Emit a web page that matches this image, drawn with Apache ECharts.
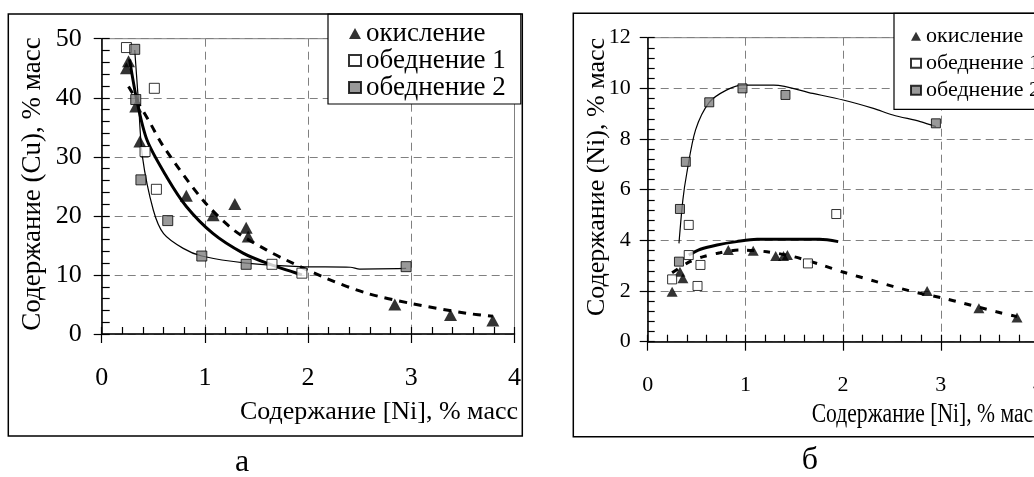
<!DOCTYPE html>
<html lang="ru">
<head>
    <meta charset="UTF-8">
    <title>Cu / Ni</title>
    <style>
        html, body { margin: 0; padding: 0; background: #fff; overflow: hidden; }
        #chart { width: 1050px; height: 477px; }
    </style>
</head>
<body>
<div id="chart"></div>
<script src="https://cdn.jsdelivr.net/npm/echarts@6/dist/echarts.min.js"></script>
<script>
    // ---- (а) содержание Cu ----
    var cuOxidation = [[0.24, 45.0], [0.26, 46.2], [0.33, 38.5], [0.37, 32.6], [0.82, 23.4], [1.08, 20.1],
        [1.29, 22.0], [1.40, 18.0], [1.42, 16.5], [2.84, 5.0], [3.38, 3.2], [3.79, 2.3]]
    var cuDepl1 = [[0.24, 48.5], [0.51, 41.6], [0.42, 30.9], [0.53, 24.5], [1.65, 11.8], [1.94, 10.3]]
    var cuDepl2 = [[0.32, 48.2], [0.33, 39.7], [0.38, 26.1], [0.64, 19.2], [0.97, 13.2], [1.40, 11.8], [2.95, 11.4]]
    var cuTrendOx = [[0.26, 41.9], [0.47, 35.7], [0.60, 31.7], [0.98, 22.7], [1.28, 17.6], [1.60, 14.2],
        [1.79, 12.5], [2.18, 9.4], [2.57, 6.9], [2.99, 5.2], [3.54, 3.5], [3.79, 3.0]]
    var cuTrend1 = [[0.27, 46.5], [0.34, 39.6], [0.44, 32.8], [0.63, 26.6], [0.82, 21.6], [1.08, 17.0],
        [1.37, 13.7], [1.60, 12.0], [1.94, 10.0]]
    var cuTrend2 = [[0.32, 48.1], [0.355, 39.6], [0.395, 30.0], [0.50, 21.0], [0.60, 17.0], [0.79, 14.5],
        [0.97, 13.2], [1.40, 12.0], [1.92, 11.4], [2.41, 11.3], [2.50, 11.0], [2.95, 11.1]]

    // ---- (б) содержание Ni ----
    var niOxidation = [[0.25, 1.97], [0.33, 2.76], [0.36, 2.5], [0.825, 3.62], [1.08, 3.59], [1.31, 3.38],
        [1.39, 3.38], [1.43, 3.42], [2.86, 2.0], [3.39, 1.32], [3.78, 0.96]]
    var niDepl1 = [[0.25, 2.46], [0.42, 4.61], [0.42, 3.42], [0.54, 3.03], [0.51, 2.2], [1.64, 3.09], [1.93, 5.04]]
    var niDepl2 = [[0.32, 3.16], [0.33, 5.24], [0.39, 7.1], [0.63, 9.45], [0.97, 10.0], [1.41, 9.74], [2.95, 8.62]]
    var niTrendOx = [[0.25, 2.72], [0.43, 3.16], [0.57, 3.36], [0.74, 3.51], [0.94, 3.62], [1.22, 3.55],
        [1.49, 3.36], [1.78, 3.03], [1.99, 2.76], [2.34, 2.37], [2.68, 2.01], [3.03, 1.71], [3.23, 1.52],
        [3.57, 1.18], [3.78, 0.99]]
    var niTrend1 = [[0.42, 3.42], [0.54, 3.65], [0.71, 3.82], [0.91, 3.95], [1.12, 4.04], [1.76, 4.04], [1.95, 3.95]]
    var niTrend2 = [[0.32, 3.88], [0.36, 5.6], [0.40, 6.65], [0.49, 8.36], [0.63, 9.45], [0.81, 9.94],
        [0.97, 10.13], [1.29, 10.13], [1.69, 9.8], [2.0, 9.54], [2.31, 9.21], [2.51, 8.95], [2.79, 8.69], [2.95, 8.49]]

    var names = ['окисление', 'обеднение 1', 'обеднение 2']
    var xRange = [0, 4, 1, 0.2]      // min, max, шаг, мелкий шаг
    var cuRange = [0, 50, 10, 2]
    var niRange = [0, 12, 2, 0.4]

    var FONT = 'Liberation Serif'

    function mainAxis(grid, pos, r, fs, margin, len) {
        return {
            type: 'value', gridIndex: grid, position: pos, min: r[0], max: r[1], interval: r[2],
            axisLine: {lineStyle: {color: '#000', width: 1.5}},
            axisTick: {show: true, inside: false, length: len, lineStyle: {color: '#000', width: 1.2}},
            axisLabel: {color: '#000', fontFamily: FONT, fontSize: fs, margin: margin},
            splitLine: {show: true, lineStyle: {color: '#808080', width: 1, type: [8, 5]}}
        }
    }
    // мелкие засечки внутрь
    function minorAxis(grid, pos, r, len) {
        return {
            type: 'value', gridIndex: grid, position: pos, min: r[0], max: r[1], interval: r[3],
            axisLine: {show: false, onZero: false},
            axisTick: {show: true, inside: true, length: len, lineStyle: {color: '#000', width: 1.2}},
            axisLabel: {show: false},
            splitLine: {show: false}
        }
    }
    var markStyle = [
        {symbol: 'triangle', itemStyle: {color: '#000'}},
        {symbol: 'rect', itemStyle: {color: '#fff', borderColor: '#000', borderWidth: 1}},
        {symbol: 'rect', itemStyle: {color: '#808080', borderColor: '#000', borderWidth: 1}}
    ]
    function scatter(i, data, xi, yi, size) {
        return {
            name: names[i], type: 'scatter', xAxisIndex: xi, yAxisIndex: yi, data: data,
            symbol: markStyle[i].symbol, symbolSize: i === 0 ? [size + 2, size + 1] : size,
            itemStyle: markStyle[i].itemStyle, z: 5
        }
    }
    function trend(data, xi, yi, width, dash) {
        return {
            type: 'line', xAxisIndex: xi, yAxisIndex: yi, data: data, smooth: 0.3,
            showSymbol: false, symbol: 'none',
            lineStyle: {color: '#000', width: width, type: dash || 'solid'}, z: 3
        }
    }
    function legendBox(left, top, fs, gap, pad, iw) {
        return {
            data: names.slice(), orient: 'vertical', left: left, top: top, padding: pad,
            itemGap: gap, itemWidth: iw, itemHeight: iw - 1, selectedMode: false,
            backgroundColor: '#fff', borderColor: '#000', borderWidth: 1.2, borderRadius: 0,
            textStyle: {color: '#000', fontFamily: FONT, fontSize: fs, lineHeight: fs}
        }
    }
    function label(text, x, y, fs, align, rot, sx) {
        return {
            type: 'text', x: x, y: y, rotation: rot || 0, scaleX: sx || 1, z: 20,
            style: {
                text: text, fontFamily: FONT, fontSize: fs, fill: '#000',
                align: align, textAlign: align, verticalAlign: 'middle', textVerticalAlign: 'middle'
            }
        }
    }

    var chart = echarts.init(document.getElementById('chart'))
    chart.setOption({
        animation: false,
        backgroundColor: '#fff',
        grid: [
            {left: 101.7, top: 38.7, width: 412.8, height: 295.3, show: true, borderColor: '#808080', borderWidth: 1},
            {left: 647.7, top: 37.7, width: 390.8, height: 304, show: true, borderColor: '#808080', borderWidth: 1}
        ],
        xAxis: [
            mainAxis(0, 'bottom', xRange, 26, 31, 9), minorAxis(0, 'bottom', xRange, 7),
            mainAxis(1, 'bottom', xRange, 22, 33, 9), minorAxis(1, 'bottom', xRange, 7)
        ],
        yAxis: [
            mainAxis(0, 'left', cuRange, 26, 20, 8), minorAxis(0, 'left', cuRange, 8),
            mainAxis(1, 'left', niRange, 22, 17, 8), minorAxis(1, 'left', niRange, 7)
        ],
        legend: [
            legendBox(328, 14, 27, 0, [6, 15, 3, 20], 12),
            legendBox(894, 13.3, 22, 5, [12, 15, 8, 16], 10)
        ],
        series: [
            trend(cuTrendOx, 0, 0, 3, [8, 7]),
            trend(cuTrend1, 0, 0, 3),
            trend(cuTrend2, 0, 0, 1.2),
            scatter(0, cuOxidation, 0, 0, 11),
            scatter(1, cuDepl1, 0, 0, 10),
            scatter(2, cuDepl2, 0, 0, 10),
            trend(niTrendOx, 2, 2, 3, [7, 9]),
            trend(niTrend1, 2, 2, 3),
            trend(niTrend2, 2, 2, 1.2),
            scatter(0, niOxidation, 2, 2, 9),
            scatter(1, niDepl1, 2, 2, 9),
            scatter(2, niDepl2, 2, 2, 9)
        ],
        graphic: [
            {type: 'rect', z: 15, shape: {x: 8.3, y: 14, width: 514, height: 422},
                style: {fill: 'none', stroke: '#000', lineWidth: 1.5}},
            {type: 'rect', z: 15, shape: {x: 573.3, y: 13.3, width: 475, height: 423.4},
                style: {fill: 'none', stroke: '#000', lineWidth: 1.5}},
            label('Содержание (Cu), % масс', 33, 184, 27, 'center', Math.PI / 2),
            label('Содержание [Ni], % масс', 518, 412, 26, 'right'),
            label('Содержание (Ni), % масс', 597, 177, 26, 'center', Math.PI / 2),
            label('Содержание [Ni], % масс', 811.7, 415, 27, 'left', 0, 0.8),
            label('а', 242, 463, 32, 'center'),
            label('б', 810, 461, 32, 'center')
        ]
    })
</script>
</body>
</html>
